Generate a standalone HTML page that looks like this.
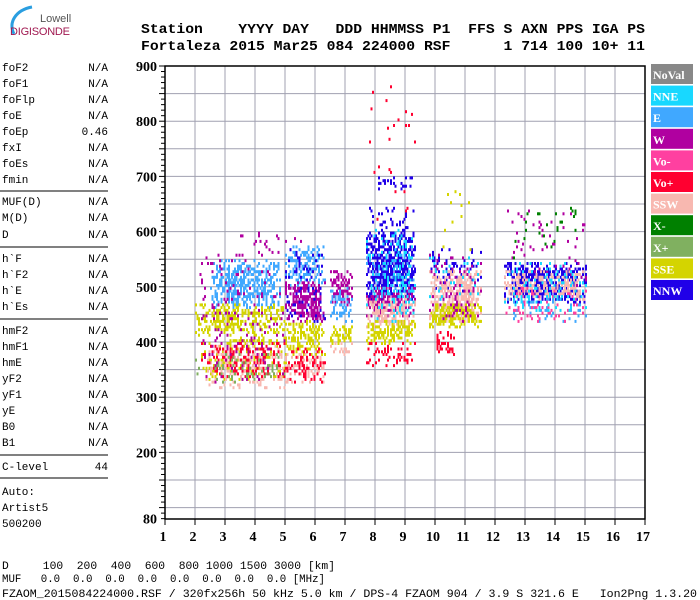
<!DOCTYPE html>
<html><head><meta charset="utf-8"><style>
body{margin:0;background:#fff;}
svg{display:block;}
.m{font-family:"Liberation Mono",monospace;}
.h{font-family:"Liberation Mono",monospace;font-weight:bold;font-size:14px;}
.t{font-family:"Liberation Serif",serif;font-weight:bold;font-size:14px;}
</style></head><body>
<svg id="c" width="700" height="600" viewBox="0 0 700 600">
<g>
<path d="M14,34 C8,22 16,10 32,7" stroke="#2a9ee0" stroke-width="3" fill="none"/>
<text x="40" y="22" font-family="Liberation Sans,sans-serif" font-size="11" fill="#555">Lowell</text>
<text x="10" y="35" font-family="Liberation Sans,sans-serif" font-size="11" fill="#a01850" textLength="60">DIGISONDE</text>
</g>
<g>
<text class="h" x="141" y="33" textLength="504" lengthAdjust="spacingAndGlyphs" xml:space="preserve">Station    YYYY DAY   DDD HHMMSS P1  FFS S AXN PPS IGA PS</text>
<text class="h" x="141" y="50" textLength="504" lengthAdjust="spacingAndGlyphs" xml:space="preserve">Fortaleza 2015 Mar25 084 224000 RSF      1 714 100 10+ 11</text>
</g>
<g id="side"></g>
<g id="grid"></g>
<g id="pts"></g>
<g id="axes"></g>
<g id="legend"></g>
<g class="m" font-size="11">
<text x="2" y="569" xml:space="preserve" textLength="333" lengthAdjust="spacingAndGlyphs">D     100  200  400  600  800 1000 1500 3000 [km]</text>
<text x="2" y="582" xml:space="preserve" textLength="323" lengthAdjust="spacingAndGlyphs">MUF   0.0  0.0  0.0  0.0  0.0  0.0  0.0  0.0 [MHz]</text>
<text x="2" y="597" xml:space="preserve" textLength="695" lengthAdjust="spacingAndGlyphs">FZAOM_2015084224000.RSF / 320fx256h 50 kHz 5.0 km / DPS-4 FZAOM 904 / 3.9 S 321.6 E   Ion2Png 1.3.20</text>
</g>
</svg>
<script>
const freqTicks=[1,2,3,4,5,6,7,8,9,10,11,12,13,14,15,16,17];
const heightTicks=[900,800,700,600,500,400,300,200,80];
const legendNames=["NoVal","NNE","E","W","Vo-","Vo+","SSW","X-","X+","SSE","NNW"];
const legendColors=["#888888","#18d8ff","#40a8ff","#b000a0","#ff40a0","#ff0030","#f8b8b0","#008000","#80b060","#d4d400","#2000e8"];
// clusters: frequency range (MHz), virtual height range (km), colour index, fill density
const clFLo=[2.5,2.0,3.0,2.2,2.3,2.2,2.0,3.5,5.0,5.0,5.0,5.0,5.0,6.5,6.5,6.5,6.5,7.7,7.7,7.7,7.7,7.7,7.7,8.0,7.7,9.8,9.8,9.8,10.0,9.8,12.3,12.3,12.3,12.3,12.5,12.3,3.2,8.0,2.0,5.0,7.7,9.8,12.3,7.7,9.8];
const clFHi=[4.8,5.0,5.0,5.0,5.0,5.0,5.0,5.0,6.3,6.3,6.3,6.3,6.3,7.2,7.2,7.2,7.2,9.3,9.3,9.3,9.3,9.3,9.3,9.2,9.3,11.5,11.5,11.5,10.6,11.5,15.0,15.0,15.0,15.0,14.8,15.0,6.0,9.2,5.0,6.3,9.3,11.5,15.0,9.3,11.5];
const clHLo=[465,415,400,330,320,340,330,540,505,440,380,330,330,470,440,400,380,480,450,430,400,360,600,680,620,490,440,430,380,480,475,480,500,440,550,440,580,460,330,440,440,440,460,480,560];
const clHHi=[550,470,410,400,400,400,380,600,575,510,440,380,390,530,500,430,400,600,500,480,440,400,650,700,900,570,530,470,420,560,545,530,640,480,650,500,600,620,560,570,600,560,545,560,690];
const clCol=[2,9,9,9,6,5,8,3,2,3,9,6,5,3,2,9,6,10,3,6,9,5,10,10,5,10,6,9,5,1,10,6,3,2,7,4,3,1,3,10,1,3,1,2,9];
const clDen=[0.5,0.45,0.75,0.25,0.3,0.25,0.15,0.05,0.45,0.65,0.45,0.3,0.25,0.5,0.35,0.5,0.25,0.7,0.55,0.6,0.5,0.3,0.1,0.3,0.012,0.18,0.65,0.55,0.35,0.08,0.7,0.4,0.04,0.14,0.04,0.12,0.08,0.08,0.07,0.12,0.12,0.1,0.12,0.12,0.02];
const sideLabels=["foF2","foF1","foFlp","foE","foEp","fxI","foEs","fmin","MUF(D)","M(D)","D","h`F","h`F2","h`E","h`Es","hmF2","hmF1","hmE","yF2","yF1","yE","B0","B1","C-level"];
const sideValues=["N/A","N/A","N/A","N/A","0.46","N/A","N/A","N/A","N/A","N/A","N/A","N/A","N/A","N/A","N/A","N/A","N/A","N/A","N/A","N/A","N/A","N/A","N/A","44"];

const NS="http://www.w3.org/2000/svg";
function mk(p,t,a){const e=document.createElementNS(NS,t);for(const k in a)e.setAttribute(k,a[k]);p.appendChild(e);return e;}
const X0=165,X1=645,Y0=66;
function xs(f){return X0+(f-1)*(X1-X0)/16;}
function ys(h){return Y0+(900-h)*0.552;}

const side=document.getElementById('side');
const rowY=[71,87,103,119,135,151,167,183,205,221,238,262,278,294,310,334,350,366,382,398,414,430,446,470];
for(let i=0;i<sideLabels.length;i++){
 const a=mk(side,'text',{x:2,y:rowY[i],'class':'m','font-size':11});a.textContent=sideLabels[i];
 
 
 const b=mk(side,'text',{x:108,y:rowY[i],'class':'m','font-size':11,'text-anchor':'end'});b.textContent=sideValues[i];
 
 
}
[191,247,319,455,478].forEach(y=>mk(side,'line',{x1:0,x2:108,y1:y,y2:y,stroke:'#000','stroke-width':1}));
["Auto:","Artist5","500200"].forEach((s,i)=>{const t=mk(side,'text',{x:2,y:495+i*16,'class':'m','font-size':11});t.textContent=s;});

const g=document.getElementById('grid');
for(let f=2;f<=16;f++)mk(g,'line',{x1:xs(f),x2:xs(f),y1:ys(900),y2:519,stroke:'#a0a0b0','stroke-width':1});
for(let h=850;h>=100;h-=50)mk(g,'line',{x1:X0,x2:X1,y1:ys(h),y2:ys(h),stroke:'#a0a0b0','stroke-width':1});

function hsh(a,b,c){let n=(a*73856093)^(b*19349663)^(c*83492791);n=(n^(n>>>13))*1274126177;n=n^(n>>>16);return ((n>>>0)%10000)/10000;}
const pts=document.getElementById('pts');
let html='';
for(let k=0;k<clFLo.length;k++){
 const f0=Math.round(clFLo[k]/0.05),f1=Math.round(clFHi[k]/0.05);
 const h0=Math.round(clHLo[k]/5),h1=Math.round(clHHi[k]/5);
 for(let fi=f0;fi<=f1;fi++){
  for(let hi=h0;hi<=h1;hi++){
   const ef=Math.min(fi-f0,f1-fi)/Math.max(1,(f1-f0)*0.2);
   const eh=Math.min(hi-h0,h1-hi)/Math.max(1,(h1-h0)*0.25);
   const taper=Math.min(1,0.35+0.65*Math.min(ef,eh));
   if(hsh(fi,hi,k+7)<clDen[k]*taper){
    html+=`<rect x="${xs(fi*0.05).toFixed(1)}" y="${ys(hi*5).toFixed(1)}" width="2" height="3" fill="${legendColors[clCol[k]]}"/>`;
   }
  }
 }
}
pts.innerHTML=html;

const ax=document.getElementById('axes');
mk(ax,'rect',{x:X0,y:ys(900),width:X1-X0,height:519-ys(900),fill:'none',stroke:'#000','stroke-width':1.5});
for(let h=80;h<=900;h+=10){const w=(h%50===0)?6:4;mk(ax,'line',{x1:X0-w,x2:X0,y1:ys(h),y2:ys(h),stroke:'#000'});}
heightTicks.forEach(h=>{const t=mk(ax,'text',{x:X0-8,y:ys(h)+5,'class':'t','text-anchor':'end'});t.textContent=h;
 
 });
freqTicks.forEach(f=>{mk(ax,'line',{x1:xs(f),x2:xs(f),y1:519,y2:525,stroke:'#000'});
 const t=mk(ax,'text',{x:xs(f)-2,y:541,'class':'t','text-anchor':'middle'});t.textContent=f;
 
 });

const lg=document.getElementById('legend');
legendNames.forEach((n,i)=>{
 const y=64+i*21.6;
 const r=mk(lg,'rect',{x:651,y:y,width:42,height:20,fill:legendColors[i]});
 
 
 const t=mk(lg,'text',{x:653,y:y+15,fill:'#fff','font-family':'Liberation Serif,serif','font-weight':'bold','font-size':12});
 t.textContent=n;
 
 
});
</script>
</body></html>
